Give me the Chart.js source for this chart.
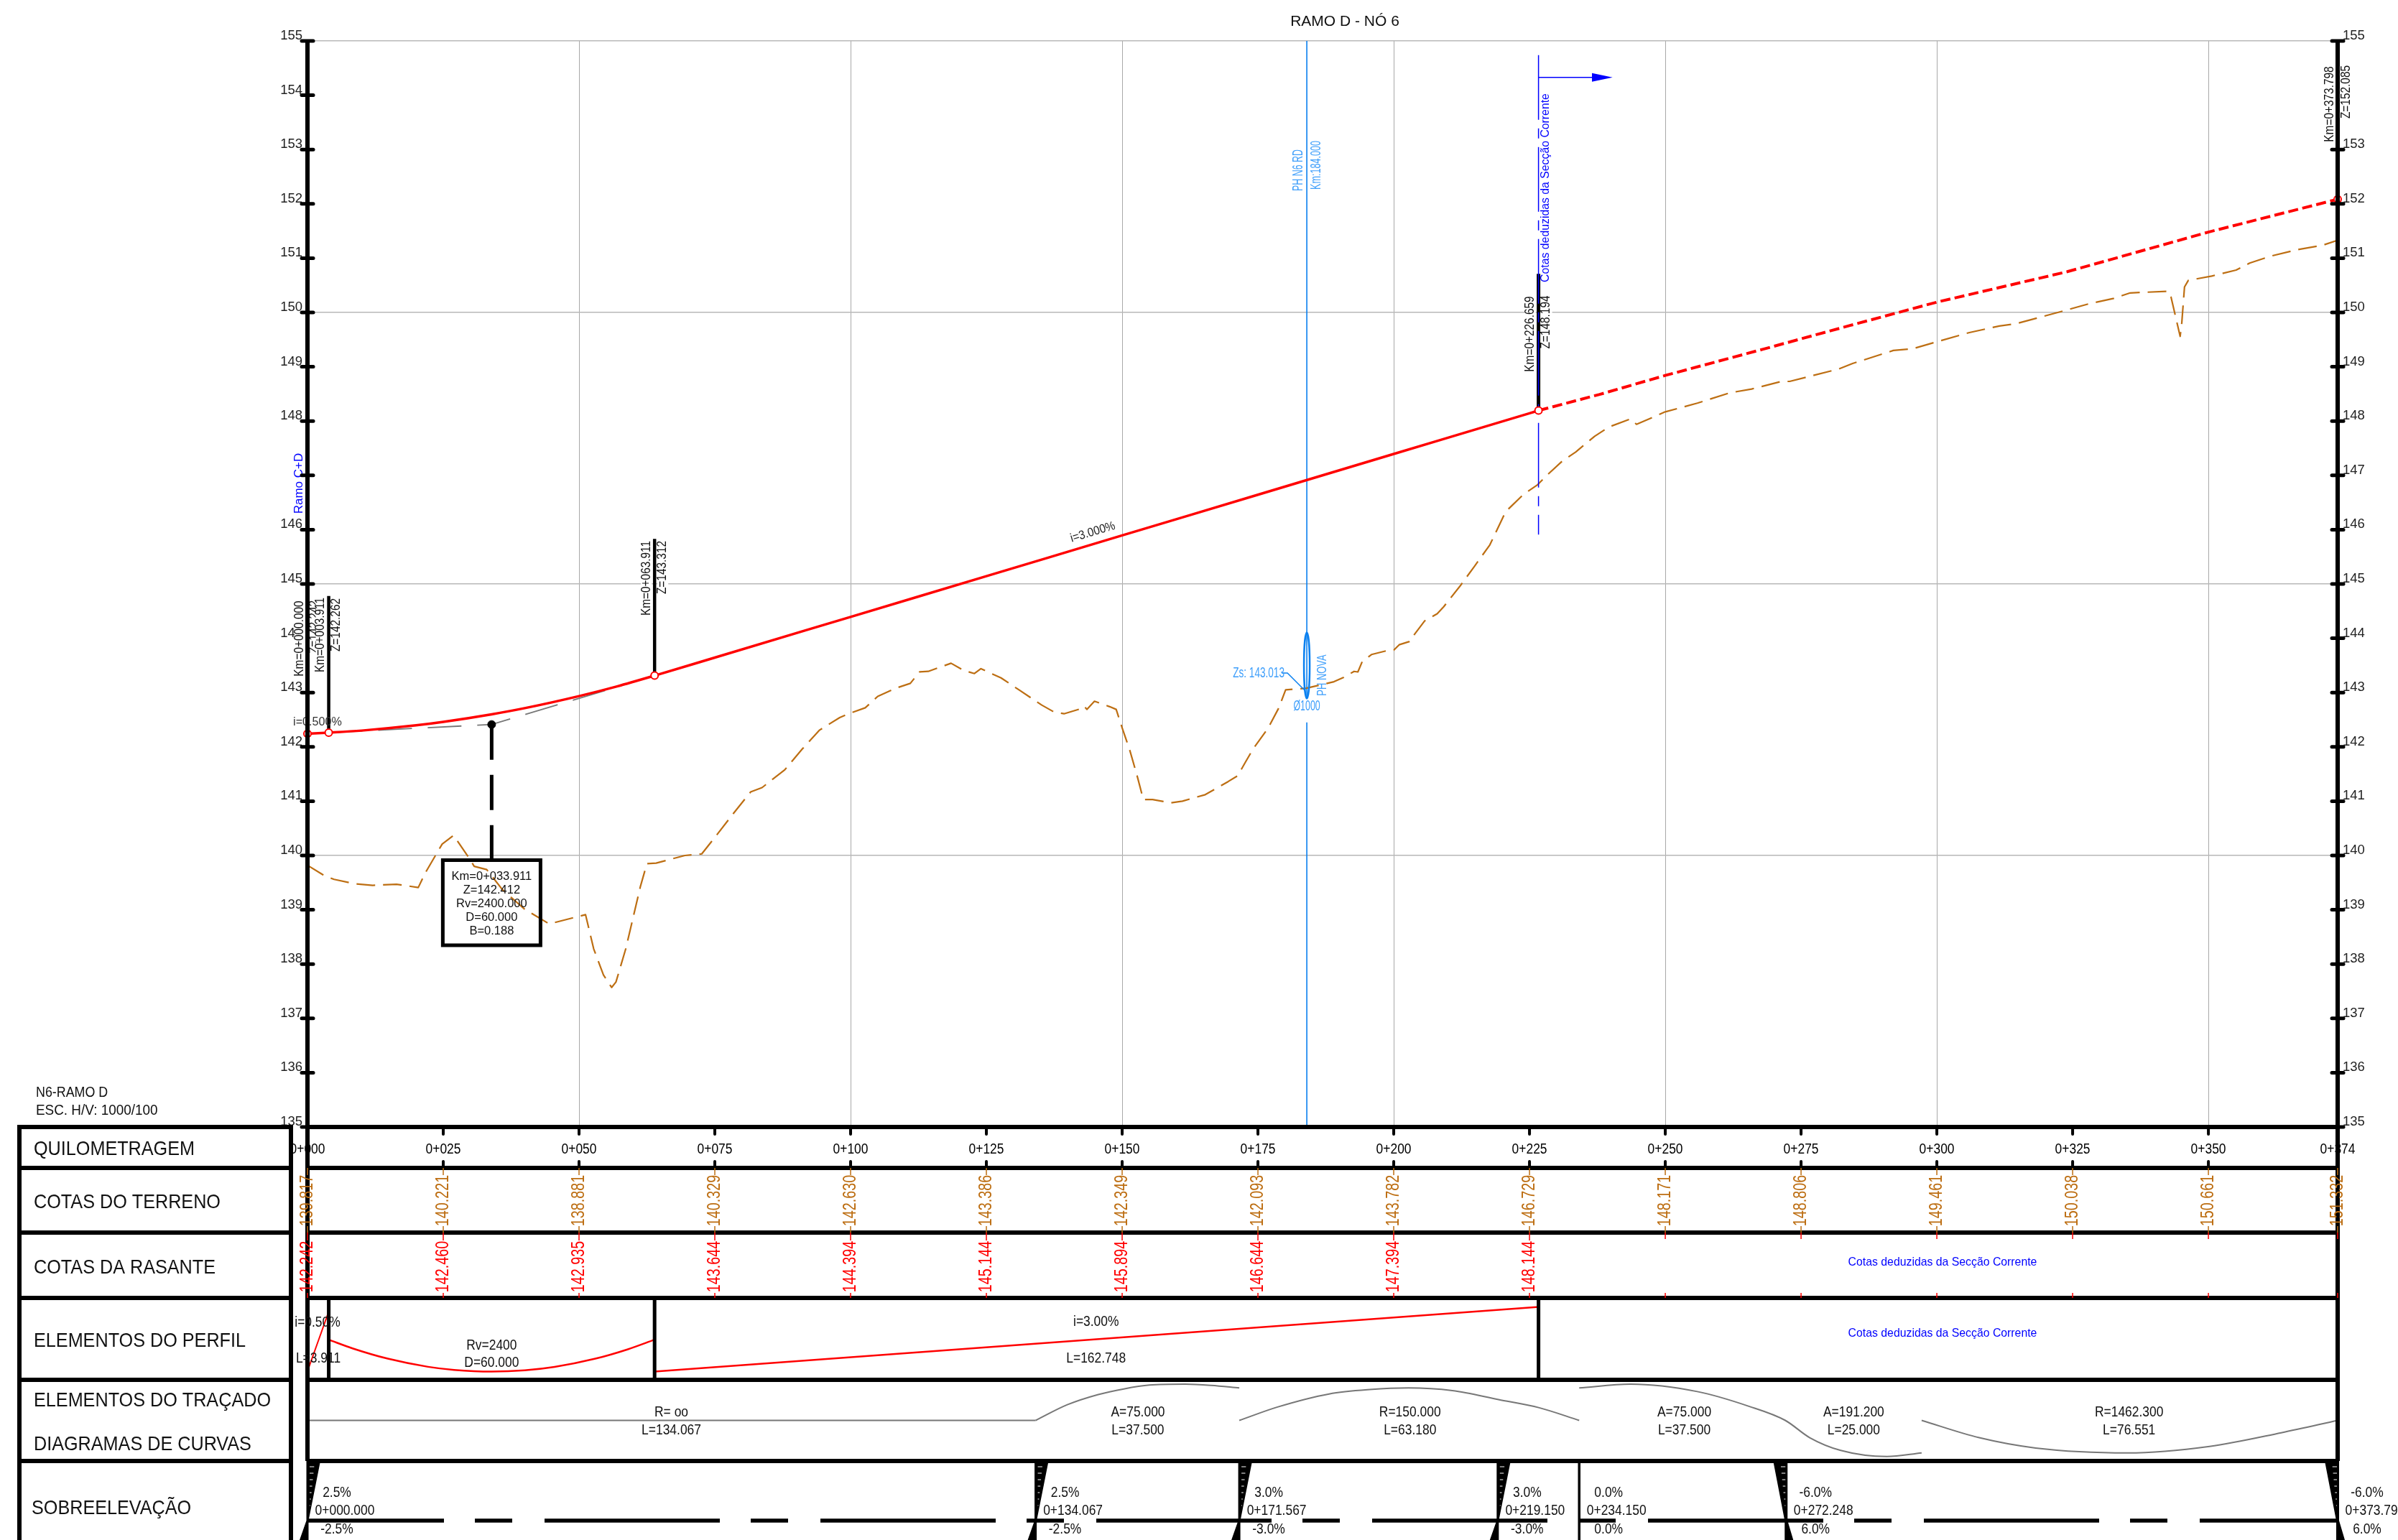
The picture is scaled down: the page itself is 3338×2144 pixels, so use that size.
<!DOCTYPE html>
<html>
<head>
<meta charset="utf-8">
<title>RAMO D - NÓ 6</title>
<script src="https://cdn.jsdelivr.net/npm/chart.js@4"></script>
<style>
  html, body { margin: 0; padding: 0; background: #fff; }
  canvas { display: block; }
</style>
</head>
<body>
<canvas id="perfil" width="3338" height="2144"></canvas>
<script>
// terreno natural
const terrainKm = [0, 3.1, 4.9, 8.7, 12, 16.4, 20.4, 21.7, 24.8, 26.9, 29.7, 30.7, 33, 35.9, 40, 44.5, 51.2, 52.7, 54.5, 56, 56.8, 58.6, 61.3, 62.5, 64.2, 69.5, 72.6, 74.9, 78.4, 81.6, 83.7, 87.9, 91.1, 94.3, 98, 99.9, 102.7, 105, 108.3, 111, 112.7, 114.3, 118.5, 120.8, 122.8, 124, 127.7, 131, 135.2, 137.5, 139.3, 142.6, 143, 143.5, 144.9, 147.7, 148.9, 150, 151.4, 152.8, 153.9, 155.6, 159, 161.1, 165.3, 169.5, 171.3, 172.7, 174.1, 176.9, 178.8, 180.1, 183.9, 189, 190.8, 192.7, 193.4, 194.2, 195.9, 198.7, 200, 201, 202.9, 203.8, 205.7, 208, 209.2, 212.2, 214.9, 217.7, 220.6, 223.9, 226.4, 228.4, 231, 233.5, 237, 239.6, 243.6, 244.7, 250, 255.9, 261.9, 265.9, 271.4, 272.9, 282, 284.5, 292, 295.5, 300, 306, 311.5, 314.5, 323, 328, 332.6, 335.6, 342.6, 343.1, 344.8, 345.1, 345.6, 346.3, 350.6, 355.1, 357.6, 361.6, 366.1, 371.1, 373.798];
const terrainZ = [139.82, 139.63, 139.56, 139.48, 139.45, 139.47, 139.41, 139.68, 140.21, 140.37, 139.96, 139.80, 139.74, 139.37, 139.01, 138.74, 138.91, 138.28, 137.80, 137.57, 137.67, 138.28, 139.43, 139.85, 139.86, 140, 140.03, 140.32, 140.77, 141.17, 141.25, 141.58, 141.96, 142.31, 142.54, 142.62, 142.72, 142.93, 143.08, 143.17, 143.38, 143.39, 143.54, 143.41, 143.35, 143.44, 143.27, 143.05, 142.77, 142.64, 142.61, 142.71, 142.75, 142.69, 142.84, 142.74, 142.69, 142.35, 141.94, 141.45, 141.03, 141.03, 140.97, 141, 141.12, 141.36, 141.47, 141.72, 141.96, 142.35, 142.71, 143.05, 143.08, 143.2, 143.28, 143.39, 143.38, 143.57, 143.7, 143.77, 143.78, 143.88, 143.94, 144.07, 144.32, 144.45, 144.58, 144.96, 145.33, 145.72, 146.33, 146.65, 146.82, 147.02, 147.26, 147.43, 147.72, 147.89, 148.04, 147.94, 148.17, 148.33, 148.52, 148.59, 148.73, 148.73, 148.96, 149.06, 149.3, 149.33, 149.46, 149.63, 149.75, 149.79, 150.02, 150.16, 150.26, 150.36, 150.39, 150.29, 149.56, 149.81, 150.47, 150.59, 150.67, 150.78, 150.91, 151.04, 151.15, 151.24, 151.33];

// rasante
const gradeKm = [0, 3.911, 10, 20, 25, 33.911, 40, 50, 57, 63.911, 75, 100, 125, 150, 175, 200, 225, 226.659];
const gradeZ = [142.242, 142.262, 142.30, 142.396, 142.46, 142.60, 142.713, 142.935, 143.114, 143.312, 143.644, 144.394, 145.144, 145.894, 146.644, 147.394, 148.144, 148.194];
const gradeDashKm = [226.659, 237.9, 250, 267.9, 284, 300, 324, 350, 373.798];
const gradeDashZ = [148.194, 148.49, 148.84, 149.32, 149.76, 150.19, 150.75, 151.48, 152.085];
const tangentKm = [3.911, 33.911, 63.911];
const tangentZ = [142.262, 142.412, 143.312];
const vertexKm = [0, 3.911, 63.911, 226.659, 373.798];
const vertexZ = [142.242, 142.262, 143.312, 148.194, 152.085];

// escala
const kmTicks = [0, 25, 50, 75, 100, 125, 150, 175, 200, 225, 250, 275, 300, 325, 350, 373.798];
const kmLabels = ['0+000', '0+025', '0+050', '0+075', '0+100', '0+125', '0+150', '0+175', '0+200', '0+225', '0+250', '0+275', '0+300', '0+325', '0+350', '0+374'];
const terrainLabels = ['139.817', '140.221', '138.881', '140.329', '142.630', '143.386', '142.349', '142.093', '143.782', '146.729', '148.171', '148.806', '149.461', '150.038', '150.661', '151.332'];
const gradeLabels = ['142.242', '142.460', '142.935', '143.644', '144.394', '145.144', '145.894', '146.644', '147.394', '148.144'];
const rowTitles = ['QUILOMETRAGEM', 'COTAS DO TERRENO', 'COTAS DA RASANTE', 'ELEMENTOS DO PERFIL', 'ELEMENTOS DO TRAÇADO', 'DIAGRAMAS DE CURVAS', 'SOBREELEVAÇÃO'];

// elementos do perfil (0 = fundo da linha, 1 = topo)
const rampKm = [0, 3.911];
const rampLevel = [0.105, 0.833];
const sagKm = [3.911, 8.3, 14.8, 22.2, 27, 33.9, 40, 45.5, 53, 59, 63.911];
const sagLevel = [0.49, 0.384, 0.258, 0.159, 0.121, 0.10, 0.116, 0.158, 0.258, 0.373, 0.49];
const slopeKm = [63.911, 226.659];
const slopeLevel = [0.10, 0.89];

// elementos do traçado
const straightKm = [0, 134.067];
const straightLevel = [0.5, 0.5];
const spiralAKm = [134.067, 139.9, 145.6, 150.3, 155, 161.6, 166.4, 171.567];
const spiralALevel = [0.5, 0.693, 0.819, 0.888, 0.935, 0.947, 0.932, 0.90];
const arcKm = [171.567, 178.6, 188.1, 195.6, 202.7, 210.8, 219.3, 226.8, 234.15];
const arcLevel = [0.5, 0.665, 0.826, 0.88, 0.90, 0.867, 0.757, 0.656, 0.5];
const spiralBKm = [234.15, 243.6, 255.9, 265.4, 272.1, 276.6, 282.3, 290.8, 297.2];
const spiralBLevel = [0.90, 0.947, 0.855, 0.674, 0.5, 0.287, 0.13, 0.055, 0.10];
const endArcKm = [297.2, 307.8, 318.2, 335.1, 350.2, 363.4, 373.798];
const endArcLevel = [0.5, 0.287, 0.16, 0.10, 0.18, 0.348, 0.5];

// sobreelevação
const superKm = [0, 134.067, 171.567, 219.15, 234.15, 272.248, 373.798];
const superLeft = ['2.5%', '2.5%', '3.0%', '3.0%', '0.0%', '-6.0%', '-6.0%'];
const superRight = ['-2.5%', '-2.5%', '-3.0%', '-3.0%', '0.0%', '6.0%', '6.0%'];
const superStation = ['0+000.000', '0+134.067', '0+171.567', '0+219.150', '0+234.150', '0+272.248', '0+373.798'];
const superLineKm = [0, 373.798];
const superLineLevel = [0.245, 0.245];

const FONT = '"Liberation Sans", Arial, sans-serif';
const AREA_TOP = 57, AREA_BOTTOM = 1569;
const rows = [1569, 1626, 1716, 1807, 1921, 2034, 2144];
const BLACK = '#000', RED = '#ff0000', BROWN = '#bd6e12', BLUE = '#0000ff', SKY = '#0a80f0', SKY_TEXT = '#3f9ffb', GREY = '#777';

function pts(xs, ys) {
    return xs.map((x, i) => ({ x: x, y: ys[i] }));
}

// eixo escondido: 0 no fundo da linha da tabela, 1 no topo
function rowAxis(top, bottom) {
    const unit = bottom - top;
    const min = (bottom - AREA_BOTTOM) / unit;
    return { type: 'linear', display: false, min: min, max: min + (AREA_BOTTOM - AREA_TOP) / unit };
}

function text(ctx, str, x, y, size, o) {
    o = o || {};
    ctx.save();
    ctx.translate(x, y);
    if (o.rot) ctx.rotate(o.rot);
    ctx.font = size + 'px ' + FONT;
    ctx.fillStyle = o.color || '#111';
    ctx.textAlign = o.align || 'center';
    ctx.textBaseline = 'middle';
    const w = ctx.measureText(str).width * (o.squeeze || 1);
    ctx.fillText(str, 0, 0, w);
    ctx.restore();
}

function vtext(ctx, str, x, y, size, o) {
    text(ctx, str, x, y, size, Object.assign({ rot: -Math.PI / 2 }, o));
}

function mask(ctx, x, y, w, h) {
    ctx.fillStyle = '#fff';
    ctx.fillRect(x, y, w, h);
}

function line(ctx, x1, y1, x2, y2, color, width, cap) {
    ctx.strokeStyle = color;
    ctx.lineWidth = width;
    ctx.lineCap = cap || 'butt';
    ctx.beginPath();
    ctx.moveTo(x1, y1);
    ctx.lineTo(x2, y2);
    ctx.stroke();
}

const tablePlugin = {
    id: 'tabela',
    afterDatasetsDraw(chart) {
        const ctx = chart.ctx;
        const X = v => chart.scales.x.getPixelForValue(v);
        const Y = v => chart.scales.y.getPixelForValue(v);
        const left = X(0), right = X(373.798);

        // seta da secção corrente
        const arrowY = Y(154.33);
        line(ctx, X(226.659), arrowY, X(236.5), arrowY, BLUE, 1.5);
        ctx.fillStyle = BLUE;
        ctx.beginPath();
        ctx.moveTo(X(236.5), arrowY - 6);
        ctx.lineTo(X(240.3), arrowY);
        ctx.lineTo(X(236.5), arrowY + 6);
        ctx.closePath();
        ctx.fill();
        vtext(ctx, 'Cotas deduzidas da Secção Corrente', X(226.659) + 10, 261.5, 17, { color: BLUE, squeeze: 0.93 });

        // passagem hidráulica
        const phX = X(184);
        ctx.strokeStyle = SKY;
        ctx.lineWidth = 2.5;
        ctx.beginPath();
        ctx.ellipse(phX, Y(143.5), 4, 46, 0, 0, Math.PI * 2);
        ctx.stroke();
        ctx.lineWidth = 1.5;
        ctx.beginPath();
        ctx.moveTo(phX - 35, 937);
        ctx.lineTo(phX - 27, 937);
        ctx.lineTo(phX - 3, 961);
        ctx.stroke();
        text(ctx, 'Zs: 143.013', phX - 67, 937, 20, { color: SKY_TEXT, squeeze: 0.68 });
        text(ctx, 'Ø1000', phX, 983, 20, { color: SKY_TEXT, squeeze: 0.62 });
        vtext(ctx, 'PH NOVA', phX + 22, 940, 18, { color: SKY_TEXT, squeeze: 0.72 });
        vtext(ctx, 'PH N6 RD', phX - 12, 237, 20, { color: SKY_TEXT, squeeze: 0.62 });
        vtext(ctx, 'Km:184.000', phX + 13, 230, 20, { color: SKY_TEXT, squeeze: 0.63 });

        // caixa do vértice
        const bx = X(33.911);
        ctx.strokeStyle = BLACK;
        ctx.lineWidth = 5;
        ctx.strokeRect(bx - 68, 1197.5, 136, 118.5);
        ['Km=0+033.911', 'Z=142.412', 'Rv=2400.000', 'D=60.000', 'B=0.188'].forEach((s, i) => {
            text(ctx, s, bx, 1220 + i * 19, 16.5);
        });

        // cotas dos vértices
        const vs = { squeeze: 0.88 };
        vtext(ctx, 'Z=142.242', left + 10, 873, 17.5, vs);
        mask(ctx, left - 18, 833, 14, 112);
        vtext(ctx, 'Km=0+000.000', left - 11, 889, 17.5, vs);
        mask(ctx, X(3.911) - 18, 830, 15, 110);
        vtext(ctx, 'Km=0+003.911', X(3.911) - 11, 884, 17.5, vs);
        vtext(ctx, 'Z=142.262', X(3.911) + 11, 870, 17.5, vs);
        mask(ctx, X(63.911) - 19, 750, 15, 110);
        vtext(ctx, 'Km=0+063.911', X(63.911) - 11, 805, 17.5, vs);
        mask(ctx, X(63.911) + 4, 750, 15, 80);
        vtext(ctx, 'Z=143.312', X(63.911) + 11, 790, 17.5, vs);
        mask(ctx, X(226.659) - 19, 410, 15, 110);
        vtext(ctx, 'Km=0+226.659', X(226.659) - 11, 465, 17.5, vs);
        mask(ctx, X(226.659) + 4, 410, 15, 78);
        vtext(ctx, 'Z=148.194', X(226.659) + 11, 448.5, 17.5, vs);
        vtext(ctx, 'Km=0+373.798', right - 11, 145, 17.5, vs);
        vtext(ctx, 'Z=152.085', right + 12, 128, 17.5, vs);
        vtext(ctx, 'Ramo C+D', left - 12, 673, 17, { color: BLUE });
        text(ctx, 'i=0.500%', left + 14, 1005, 17, { color: '#333', squeeze: 0.95 });
        text(ctx, 'i=3.000%', X(144.6), 741, 17, { color: '#222', rot: -Math.atan(0.3), squeeze: 0.9 });

        text(ctx, 'RAMO D - NÓ 6', X(191), 30, 21);
        text(ctx, 'N6-RAMO D', 50, 1521, 21, { align: 'left', squeeze: 0.85 });
        text(ctx, 'ESC. H/V: 1000/100', 50, 1546, 21, { align: 'left', squeeze: 0.9 });

        // titulos das linhas
        const titleY = [1600, 1674, 1765, 1867, 1950, 2011, 2100];
        rowTitles.forEach((s, i) => {
            text(ctx, s, i === 6 ? 44 : 47, titleY[i], 28, { align: 'left', squeeze: 0.9 });
        });

        // quilometragem
        kmTicks.forEach((k, i) => {
            text(ctx, kmLabels[i], X(k), 1600, 20.5, { squeeze: 0.85, color: BLACK });
        });

        // linhas da tabela
        rows.forEach((r, i) => {
            if (i < rows.length - 1) {
                line(ctx, 27, r, 405, r, BLACK, 6);
                line(ctx, left, r, right, r, BLACK, 6);
            }
        });
        line(ctx, 27, rows[0] - 3, 27, 2144, BLACK, 6);
        line(ctx, 405, rows[0] - 3, 405, 2144, BLACK, 6);
        line(ctx, left, AREA_TOP, left, rows[5], BLACK, 6);
        line(ctx, right, AREA_TOP, right, rows[5], BLACK, 6);
        [3.911, 63.911, 226.659].forEach(k => {
            line(ctx, X(k), rows[3], X(k), rows[4], BLACK, 5);
        });
        line(ctx, X(234.15), rows[5], X(234.15), 2144, BLACK, 3.5);

        // marcas do eixo vertical
        chart.scales.y.ticks.forEach(t => {
            if (t.value === 144) return;
            line(ctx, left - 8, Y(t.value), left + 8, Y(t.value), BLACK, 5, 'round');
        });
        chart.scales.y.ticks.forEach(t => {
            if (t.value === 154) return;
            line(ctx, right - 8, Y(t.value), right + 8, Y(t.value), BLACK, 5, 'round');
        });

        // marcas da quilometragem
        kmTicks.slice(1, -1).forEach(k => {
            line(ctx, X(k), rows[0], X(k), rows[0] + 10, BLACK, 4, 'round');
            line(ctx, X(k), rows[1] - 9, X(k), rows[1], BLACK, 4, 'round');
        });

        // cotas
        kmTicks.forEach((k, i) => {
            const x = X(k);
            line(ctx, x, rows[1], x, 1636, BROWN, 1.5);
            line(ctx, x, 1707, x, rows[2], BROWN, 1.5);
            vtext(ctx, terrainLabels[i], x, 1671.5, 25, { color: BROWN, squeeze: 0.79 });
            if (gradeLabels[i]) {
                line(ctx, x, rows[2], x, 1727, RED, 1.5);
                line(ctx, x, 1800, x, rows[3], RED, 1.5);
                vtext(ctx, gradeLabels[i], x, 1763.5, 25, { color: RED, squeeze: 0.79 });
            } else {
                line(ctx, x, rows[2], x, 1725, RED, 1.5);
                line(ctx, x, 1800, x, rows[3], RED, 1.5);
            }
        });
        text(ctx, 'Cotas deduzidas da Secção Corrente', 2704, 1757.5, 17, { color: BLUE, squeeze: 0.93 });
        text(ctx, 'Cotas deduzidas da Secção Corrente', 2704, 1856.5, 17, { color: BLUE, squeeze: 0.93 });

        // textos dos elementos
        const small = { squeeze: 0.83 };
        text(ctx, 'i=0.50%', left + 14, 1841, 21, small);
        text(ctx, 'L=3.911', left + 15, 1891, 21, small);
        text(ctx, 'Rv=2400', X(33.911), 1873, 21, small);
        text(ctx, 'D=60.000', X(33.911), 1897, 21, small);
        text(ctx, 'i=3.00%', X(145.2), 1840, 21, small);
        text(ctx, 'L=162.748', X(145.2), 1891, 21, small);
        const alignNotes = [['R= oo', 'L=134.067', 67], ['A=75.000', 'L=37.500', 152.9], ['R=150.000', 'L=63.180', 203], ['A=75.000', 'L=37.500', 253.5], ['A=191.200', 'L=25.000', 284.7], ['R=1462.300', 'L=76.551', 335.4]];
        alignNotes.forEach(n => {
            text(ctx, n[0], X(n[2]), 1966, 21, small);
            text(ctx, n[1], X(n[2]), 1991, 21, small);
        });

        // sobreelevação
        superKm.forEach((k, i) => {
            const x = X(k);
            ctx.fillStyle = BLACK;
            if (i < 4) {
                ctx.beginPath();
                ctx.moveTo(x - 1.5, rows[5]);
                ctx.lineTo(x + 18, rows[5]);
                ctx.lineTo(x + 1.5, 2117);
                ctx.lineTo(x + 1.5, 2144);
                ctx.lineTo(x - 11, 2144);
                ctx.lineTo(x - 1.5, 2117);
                ctx.closePath();
                ctx.fill();
                for (let w = rows[5] + 8; w < 2100; w += 9) {
                    line(ctx, x + 3, w, x + 3 + (2105 - w) * 0.1, w, '#fff', 1);
                }
            } else if (i > 4) {
                ctx.beginPath();
                ctx.moveTo(x + 2, rows[5]);
                ctx.lineTo(x - 18, rows[5]);
                ctx.lineTo(x - 2, 2117);
                ctx.lineTo(x - 2, 2144);
                ctx.lineTo(x + 10, 2144);
                ctx.lineTo(x + 2, 2117);
                ctx.closePath();
                ctx.fill();
                for (let w = rows[5] + 8; w < 2100; w += 9) {
                    line(ctx, x - 1, w, x - 1 - (2105 - w) * 0.1, w, '#fff', 1);
                }
            }
            text(ctx, superLeft[i], x + 41, 2078, 21, small);
            text(ctx, superStation[i], x + 52, 2103.5, 21, small);
            text(ctx, superRight[i], x + 41, 2129, 21, small);
        });
    }
};

const thin = { showLine: true, pointRadius: 0, fill: false, tension: 0, clip: false };
const smooth = { cubicInterpolationMode: 'monotone' };

new Chart(document.getElementById('perfil'), {
    type: 'scatter',
    data: {
        datasets: [
            Object.assign({}, thin, { label: 'vertices', data: pts(vertexKm, vertexZ), showLine: false, pointRadius: 5, pointBackgroundColor: '#fff', pointBorderColor: RED, pointBorderWidth: 2 }),
            Object.assign({}, thin, { label: 'vertice', data: [{ x: 33.911, y: 142.412 }], showLine: false, pointRadius: 5.5, pointBackgroundColor: BLACK, pointBorderColor: BLACK }),
            Object.assign({}, thin, smooth, { label: 'rasante', data: pts(gradeKm, gradeZ), borderColor: RED, borderWidth: 3.5 }),
            Object.assign({}, thin, { label: 'rasante deduzida', data: pts(gradeDashKm, gradeDashZ), borderColor: RED, borderWidth: 4, borderDash: [14, 6] }),
            Object.assign({}, thin, { label: 'seccao', data: pts([226.659, 226.659], [154.74, 145.91]), borderColor: BLUE, borderWidth: 1.5, borderDash: [90, 12, 14, 12] }),
            Object.assign({}, thin, { label: 'km 3.911', data: pts([3.911, 3.911], [142.262, 144.78]), borderColor: BLACK, borderWidth: 4.5 }),
            Object.assign({}, thin, { label: 'km 63.911', data: pts([63.911, 63.911], [143.312, 145.83]), borderColor: BLACK, borderWidth: 4.5 }),
            Object.assign({}, thin, { label: 'km 226.659', data: pts([226.659, 226.659], [148.194, 150.71]), borderColor: BLACK, borderWidth: 5 }),
            Object.assign({}, thin, { label: 'km 33.911', data: pts([33.911, 33.911], [142.412, 139.91]), borderColor: BLACK, borderWidth: 5, borderDash: [49, 21] }),
            Object.assign({}, thin, { label: 'tangentes', data: pts(tangentKm, tangentZ), borderColor: GREY, borderWidth: 1.8, borderDash: [47, 22] }),
            Object.assign({}, thin, { label: 'terreno', data: pts(terrainKm, terrainZ), borderColor: BROWN, borderWidth: 2.2, borderDash: [26, 11], borderJoinStyle: 'round' }),
            Object.assign({}, thin, { label: 'PH', data: pts([184, 184, 184, 184, 184], [155, 142.91, null, 142.45, 135]), borderColor: SKY, borderWidth: 1.6, spanGaps: false }),
            // tabela
            Object.assign({}, thin, { label: 'i=0.5%', yAxisID: 'yPerfil', data: pts(rampKm, rampLevel), borderColor: RED, borderWidth: 2 }),
            Object.assign({}, thin, smooth, { label: 'Rv=2400', yAxisID: 'yPerfil', data: pts(sagKm, sagLevel), borderColor: RED, borderWidth: 2.5 }),
            Object.assign({}, thin, { label: 'i=3%', yAxisID: 'yPerfil', data: pts(slopeKm, slopeLevel), borderColor: RED, borderWidth: 2.5 }),
            Object.assign({}, thin, { label: 'alinhamento', yAxisID: 'yTracado', data: pts(straightKm, straightLevel), borderColor: GREY, borderWidth: 2 }),
            Object.assign({}, thin, smooth, { label: 'clotoide A', yAxisID: 'yTracado', data: pts(spiralAKm, spiralALevel), borderColor: GREY, borderWidth: 2 }),
            Object.assign({}, thin, smooth, { label: 'R=150', yAxisID: 'yTracado', data: pts(arcKm, arcLevel), borderColor: GREY, borderWidth: 2 }),
            Object.assign({}, thin, smooth, { label: 'clotoide B', yAxisID: 'yTracado', data: pts(spiralBKm, spiralBLevel), borderColor: GREY, borderWidth: 2 }),
            Object.assign({}, thin, smooth, { label: 'R=1462.3', yAxisID: 'yTracado', data: pts(endArcKm, endArcLevel), borderColor: GREY, borderWidth: 2 }),
            Object.assign({}, thin, { label: 'sobreelevacao', yAxisID: 'ySobre', data: pts(superLineKm, superLineLevel), borderColor: BLACK, borderWidth: 5.5, borderDash: [244, 43, 52, 45], borderDashOffset: 54 })
        ]
    },
    options: {
        responsive: false,
        animation: false,
        devicePixelRatio: 1,
        layout: { padding: { left: 388, right: 44, top: AREA_TOP, bottom: 2144 - AREA_BOTTOM } },
        plugins: { legend: { display: false }, tooltip: { enabled: false }, title: { display: false } },
        elements: { point: { hitRadius: 0 } },
        scales: {
            x: {
                type: 'linear',
                min: 0,
                max: 373.798,
                afterBuildTicks: axis => { axis.ticks = kmTicks.map(v => ({ value: v })); },
                ticks: { display: false },
                border: { display: false },
                grid: {
                    drawTicks: false,
                    lineWidth: 1,
                    color: c => (c.tick && c.tick.value % 50 === 0 && c.tick.value > 0) ? '#a8a8a8' : 'transparent'
                }
            },
            y: {
                type: 'linear',
                position: 'left',
                min: 135,
                max: 155,
                afterFit: s => { s.width = 40; },
                ticks: {
                    stepSize: 1,
                    padding: 7,
                    labelOffset: -7,
                    color: '#222',
                    font: { family: FONT, size: 18.5 },
                    callback: v => (v === 147 ? '' : String(v))
                },
                border: { display: false },
                grid: {
                    drawTicks: false,
                    lineWidth: 1.5,
                    color: c => (c.tick && c.tick.value % 5 === 0 && c.tick.value > 135) ? '#b8b8b8' : 'transparent'
                }
            },
            y2: {
                type: 'linear',
                position: 'right',
                min: 135,
                max: 155,
                afterFit: s => { s.width = 40; },
                ticks: {
                    stepSize: 1,
                    padding: 7,
                    labelOffset: -7,
                    color: '#222',
                    font: { family: FONT, size: 18.5 },
                    callback: v => (v === 154 ? '' : String(v))
                },
                border: { display: false },
                grid: { drawTicks: false, drawOnChartArea: false }
            },
            yPerfil: rowAxis(rows[3], rows[4]),
            yTracado: rowAxis(rows[4], rows[5]),
            ySobre: rowAxis(rows[5], rows[6])
        }
    },
    plugins: [tablePlugin]
});
</script>
</body>
</html>
